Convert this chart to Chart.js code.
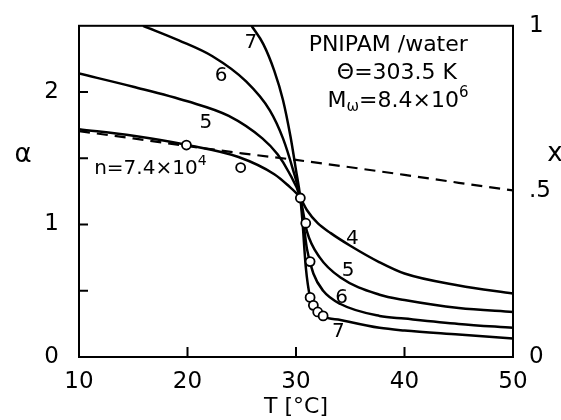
<!DOCTYPE html>
<html lang="en">
<head>
<meta charset="UTF-8" />
<title>PNIPAM / water</title>
<style>
  body { margin: 0; background: #fff; }
  #wrap { width: 561px; height: 420px; }
</style>
</head>
<body>
<div id="wrap"><canvas id="chart" width="561" height="420"></canvas></div>
<script src="https://cdn.jsdelivr.net/npm/chart.js@4.4.3"></script>
<script>
  // alpha vs T for the four chain lengths (n = 10^4 .. 10^7)
  const t4 = [10, 15, 20, 24.7, 28, 29.2, 30.4, 31.0, 32.0, 33.2, 35.0, 37.7, 40, 45, 50];
  const a4 = [1.72, 1.67, 1.60, 1.51, 1.38, 1.30, 1.20, 1.11, 1.01, 0.935, 0.84, 0.715, 0.63, 0.54, 0.48];

  const t5 = [10, 15, 20, 23.8, 26.9, 28.3, 29.3, 30.4, 31.0, 32.2, 34.1, 37.7, 40, 45, 50];
  const a5 = [2.14, 2.04, 1.93, 1.82, 1.65, 1.53, 1.40, 1.20, 0.95, 0.75, 0.60, 0.47, 0.43, 0.37, 0.34];

  const t6 = [15.9, 19.2, 22.3, 25.4, 27.6, 28.8, 29.7, 30.4, 31.0, 31.6, 32.5, 34.1, 37.7, 40, 45, 50];
  const a6 = [2.5, 2.39, 2.27, 2.08, 1.86, 1.65, 1.42, 1.20, 0.82, 0.63, 0.50, 0.40, 0.31, 0.29, 0.25, 0.22];

  const t7 = [25.9, 27.0, 28.0, 28.8, 29.5, 30.0, 30.4, 30.6, 30.9, 31.3, 31.7, 32.5, 34.1, 37.7, 40, 45, 50];
  const a7 = [2.5, 2.36, 2.16, 1.94, 1.66, 1.41, 1.20, 1.02, 0.68, 0.45, 0.38, 0.31, 0.28, 0.22, 0.20, 0.17, 0.14];

  // measured points (open circles)
  const expT = [19.9, 24.9, 30.4, 30.9, 31.3, 31.3, 31.6, 32.0, 32.5];
  const expA = [1.60, 1.43, 1.20, 1.01, 0.72, 0.45, 0.39, 0.34, 0.31];

  // fraction x (right axis), dashed line
  const fracT = [10, 15, 20, 25, 30, 35, 40, 45, 50];
  const fracX = [0.682, 0.660, 0.637, 0.615, 0.595, 0.573, 0.550, 0.526, 0.503];

  const tempTicks = [10, 20, 30, 40, 50];
  const alphaTicks = [0, 0.5, 1, 1.5, 2];

  const pts = (xs, ys) => xs.map((x, i) => ({ x: x, y: ys[i] }));
  const FONT = '"DejaVu Sans", sans-serif';

  const curve = (xs, ys) => ({
    data: pts(xs, ys),
    showLine: true,
    borderColor: '#000',
    borderWidth: 2.5,
    pointRadius: 0,
    cubicInterpolationMode: 'monotone',
    yAxisID: 'y'
  });

  // text placed in data units: [runs, T, alpha, size, align]
  const notes = [
    [['7'], 25.85, 2.37, 20, 'center'],
    [['6'], 23.1, 2.12, 20, 'center'],
    [['5'], 21.7, 1.77, 20, 'center'],
    [['4'], 35.2, 0.89, 20, 'center'],
    [['5'], 34.8, 0.65, 20, 'center'],
    [['6'], 34.2, 0.45, 20, 'center'],
    [['7'], 33.9, 0.19, 20, 'center'],
    [['n=7.4×10', ['4', 'sup']], 11.4, 1.42, 20, 'left'],
    [['PNIPAM /water'], 38.5, 2.35, 22, 'center'],
    [['Θ=303.5 K'], 39.3, 2.14, 22, 'center'],
    [['M', ['ω', 'sub'], '=8.4×10', ['6', 'sup']], 39.4, 1.93, 22, 'center']
  ];

  function drawRuns(ctx, runs, x, y, size, align) {
    const parts = runs.map(r => {
      const txt = Array.isArray(r) ? r[0] : r;
      const kind = Array.isArray(r) ? r[1] : '';
      const s = kind ? Math.round(size * 0.7) : size;
      ctx.font = s + 'px ' + FONT;
      return { txt, kind, s, w: ctx.measureText(txt).width };
    });
    const total = parts.reduce((s, p) => s + p.w, 0);
    let cx = align === 'center' ? x - total / 2 : x;
    ctx.textAlign = 'left';
    ctx.textBaseline = 'middle';
    parts.forEach(p => {
      ctx.font = p.s + 'px ' + FONT;
      let dy = 0;
      if (p.kind === 'sup') dy = -size * 0.38;
      if (p.kind === 'sub') dy = size * 0.28;
      ctx.fillText(p.txt, cx, y + dy);
      cx += p.w;
    });
  }

  const decor = {
    id: 'decor',
    afterDraw(chart) {
      const { ctx, chartArea: a, scales } = chart;
      ctx.save();
      ctx.strokeStyle = '#000';
      ctx.fillStyle = '#000';
      ctx.lineWidth = 2;
      ctx.strokeRect(a.left, a.top, a.right - a.left, a.bottom - a.top);

      // inward tick marks
      ctx.beginPath();
      alphaTicks.forEach(v => {
        const y = scales.y.getPixelForValue(v);
        ctx.moveTo(a.left, y); ctx.lineTo(a.left + 9, y);
      });
      tempTicks.forEach(v => {
        const x = scales.x.getPixelForValue(v);
        ctx.moveTo(x, a.bottom); ctx.lineTo(x, a.bottom - 10);
      });
      ctx.stroke();

      notes.forEach(n => {
        drawRuns(ctx, n[0], scales.x.getPixelForValue(n[1]), scales.y.getPixelForValue(n[2]), n[3], n[4]);
      });

      // axis names
      ctx.font = '26px ' + FONT;
      ctx.textAlign = 'center';
      ctx.textBaseline = 'middle';
      ctx.fillText('α', a.left - 56, a.top + 129);
      ctx.fillText('x', a.right + 42, a.top + 128);
      ctx.restore();
    }
  };

  new Chart(document.getElementById('chart'), {
    type: 'scatter',
    data: {
      datasets: [
        {
          data: pts(expT, expA),
          pointRadius: 4.5,
          pointBackgroundColor: '#fff',
          pointBorderColor: '#000',
          pointBorderWidth: 1.8,
          yAxisID: 'y'
        },
        curve(t4, a4),
        curve(t5, a5),
        curve(t6, a6),
        curve(t7, a7),
        {
          data: pts(fracT, fracX),
          showLine: true,
          borderColor: '#000',
          borderWidth: 2.2,
          borderDash: [11, 7],
          pointRadius: 0,
          yAxisID: 'y2'
        }
      ]
    },
    options: {
      responsive: false,
      animation: false,
      layout: { padding: { top: 22, left: 0, right: 0, bottom: 0 } },
      plugins: { legend: { display: false }, tooltip: { enabled: false } },
      scales: {
        x: {
          type: 'linear',
          min: 10, max: 50,
          afterFit: s => { s.height = 63; },
          afterBuildTicks: s => { s.ticks = tempTicks.map(v => ({ value: v })); },
          ticks: { color: '#000', padding: 3, font: { family: FONT, size: 23 } },
          grid: { display: false },
          border: { display: false },
          title: {
            display: true, text: 'T [°C]', color: '#000',
            padding: { top: 0, bottom: 0 },
            font: { family: FONT, size: 22 }
          }
        },
        y: {
          type: 'linear',
          position: 'left',
          min: 0, max: 2.5,
          afterFit: s => { s.width = 79; },
          afterBuildTicks: s => { s.ticks = [0, 1, 2].map(v => ({ value: v })); },
          ticks: { color: '#000', padding: 12, font: { family: FONT, size: 23 } },
          grid: { display: false },
          border: { display: false }
        },
        y2: {
          type: 'linear',
          position: 'right',
          min: 0, max: 1,
          afterFit: s => { s.width = 48; },
          afterBuildTicks: s => { s.ticks = [0, 0.5, 1].map(v => ({ value: v })); },
          ticks: {
            color: '#000', padding: 8, font: { family: FONT, size: 23 },
            callback: v => (v === 0.5 ? '.5' : String(v))
          },
          grid: { display: false },
          border: { display: false }
        }
      }
    },
    plugins: [decor]
  });
</script>
</body>
</html>
